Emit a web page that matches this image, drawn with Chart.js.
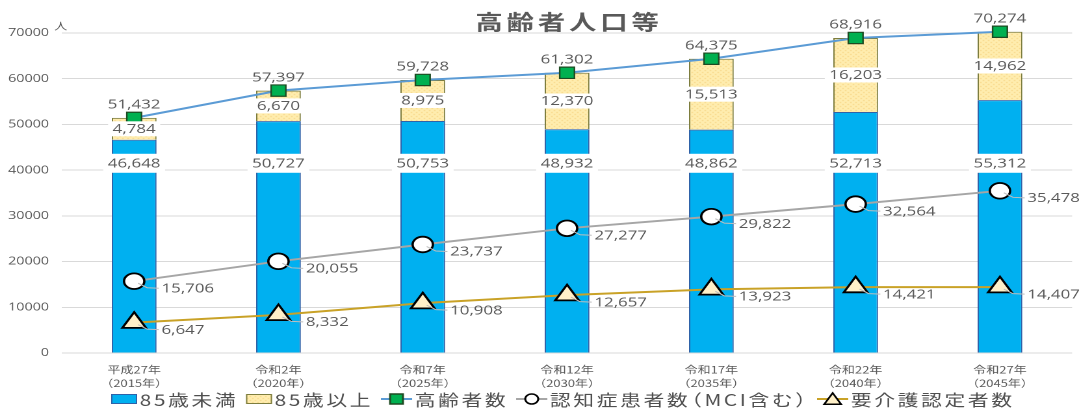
<!DOCTYPE html>
<html><head><meta charset="utf-8">
<script src="https://cdn.jsdelivr.net/npm/chart.js@4.4.1/dist/chart.umd.min.js"></script>
<style>
html,body{margin:0;padding:0;background:#fff;overflow:hidden;}
#wrap{width:837px;height:408px;transform:scale(1.3,1);transform-origin:0 0;}
</style></head><body>
<div id="wrap"><canvas id="c" width="837" height="408"></canvas></div>
<script>
// ---- data ----
const categories = [
  ["平成27年","（2015年）"],["令和2年","（2020年）"],["令和7年","（2025年）"],
  ["令和12年","（2030年）"],["令和17年","（2035年）"],["令和22年","（2040年）"],["令和27年","（2045年）"]
];
const under85 = [46648, 50727, 50753, 48932, 48862, 52713, 55312];
const over85 = [4784, 6670, 8975, 12370, 15513, 16203, 14962];
const elderlyTotal = [51432, 57397, 59728, 61302, 64375, 68916, 70274];
const dementia = [15706, 20055, 23737, 27277, 29822, 32564, 35478];
const careCertified = [6647, 8332, 10908, 12657, 13923, 14421, 14407];
const yTicks = [0, 10000, 20000, 30000, 40000, 50000, 60000, 70000];
const titleText = "高齢者人口等";
const unitText = "人";

const GRAY = '#595959';
const canvas = document.getElementById('c');
const ctx0 = canvas.getContext('2d');

function makePattern(){
  const c = document.createElement('canvas'); c.width = 4; c.height = 4;
  const x = c.getContext('2d');
  x.fillStyle = '#FFEDAF'; x.fillRect(0,0,4,4);
  x.fillStyle = '#F5D27C'; x.fillRect(0,0,1,1); x.fillRect(2,2,1,1);
  return ctx0.createPattern(c, 'repeat');
}
const yellowPattern = makePattern();
const fmt = v => v.toLocaleString('en-US');

function spacedWidth(ctx, text, sp){
  let w = 0;
  for (const ch of text){
    if (ch === '（' || ch === '）') w += ctx.measureText(ch).width*0.55 + sp;
    else w += ctx.measureText(ch).width + sp;
  }
  return w;
}
function drawSpaced(ctx, text, x, y, sp){
  for (const ch of text){
    const cw = ctx.measureText(ch).width;
    if (ch === '（'){ ctx.fillText(ch, x - cw*0.45, y); x += cw*0.55 + sp; }
    else if (ch === '）'){ ctx.fillText(ch, x, y); x += cw*0.55 + sp; }
    else { ctx.fillText(ch, x, y); x += cw + sp; }
  }
  return x;
}

const labelPlugin = {
  id: 'labels',
  afterDatasetsDraw(chart){
    const ctx = chart.ctx, ys = chart.scales.y;
    ctx.save();
    ctx.font = '13px "Open Sans"';
    ctx.textAlign = 'center'; ctx.textBaseline = 'middle';
    const box = (x, y, t, h) => {
      const w = ctx.measureText(t).width + 7;
      ctx.fillStyle = '#fff'; ctx.fillRect(x - w/2, y - h/2, w, h);
      ctx.fillStyle = GRAY; ctx.fillText(t, x, y + 0.5);
    };
    chart.getDatasetMeta(0).data.forEach((b, i) => box(b.x, ys.getPixelForValue(41500), fmt(under85[i]), 19));
    chart.getDatasetMeta(1).data.forEach((b, i) => box(b.x, (b.y + b.base)/2, fmt(over85[i]), 15));
    ctx.fillStyle = GRAY;
    chart.getDatasetMeta(2).data.forEach((p, i) => ctx.fillText(fmt(elderlyTotal[i]), p.x, p.y - 13));
    ctx.textAlign = 'left';
    const side = (meta, arr) => meta.data.forEach((p, i) => {
      ctx.strokeStyle = '#BFBFBF'; ctx.lineWidth = 1;
      ctx.beginPath(); ctx.moveTo(p.x + 3, p.y + 2); ctx.lineTo(p.x + 10, p.y + 6.5); ctx.lineTo(p.x + 19, p.y + 7); ctx.stroke();
      ctx.fillStyle = GRAY; ctx.fillText(fmt(arr[i]), p.x + 21, p.y + 7.5);
    });
    side(chart.getDatasetMeta(3), dementia);
    side(chart.getDatasetMeta(4), careCertified);
    ctx.restore();
  }
};

const decorPlugin = {
  id: 'decor',
  afterDraw(chart){
    const ctx = chart.ctx, ca = chart.chartArea;
    ctx.save();
    // title
    ctx.fillStyle = GRAY; ctx.textBaseline = 'middle';
    ctx.font = 'bold 21px "Noto Sans CJK JP"';
    const tsp = 3;
    const tw = spacedWidth(ctx, titleText, tsp) - tsp;
    ctx.textAlign = 'left';
    drawSpaced(ctx, titleText, (ca.left + ca.right)/2 - tw/2, 22, tsp);
    // unit
    ctx.font = '10px "Noto Sans CJK JP"'; ctx.textAlign = 'center';
    ctx.fillText(unitText, ca.left - 1, 26);
    // legend
    const ds = chart.data.datasets;
    const items = [
      {ds: ds[0], kind: 'box'}, {ds: ds[1], kind: 'box'},
      {ds: ds[2], kind: 'line'}, {ds: ds[3], kind: 'line'}, {ds: ds[4], kind: 'line'}
    ];
    ctx.font = '16px "Noto Sans CJK JP"'; ctx.textAlign = 'left';
    const sp = 2.0, symW = {box: 20, line: 24}, gapS = 2, gapI = 6;
    let total = 0;
    items.forEach((it, k) => { it.tw = spacedWidth(ctx, it.ds.label, sp); total += symW[it.kind] + gapS + it.tw + (k < items.length - 1 ? gapI : 0); });
    let x = 433 - total/2; const y = 399;
    items.forEach(it => {
      const d = it.ds;
      if (it.kind === 'box'){
        ctx.fillStyle = d.backgroundColor; ctx.fillRect(x, y - 5, 20, 10);
        ctx.strokeStyle = d.borderColor; ctx.lineWidth = 1; ctx.strokeRect(x + 0.5, y - 4.5, 19, 9);
      } else {
        ctx.strokeStyle = d.borderColor; ctx.lineWidth = 2;
        ctx.beginPath(); ctx.moveTo(x, y); ctx.lineTo(x + 24, y); ctx.stroke();
        ctx.fillStyle = d.pointBackgroundColor; ctx.strokeStyle = d.pointBorderColor; ctx.lineWidth = 1.5;
        const r = d.pointStyle === 'circle' ? 5 : (d.pointStyle === 'rect' ? 7 : 7.5);
        Chart.helpers.drawPoint(ctx, {pointStyle: d.pointStyle, radius: r, rotation: 0, borderWidth: 1.5}, x + 12, y + (d.pointStyle === 'triangle' ? 1.5 : 0));
      }
      x += symW[it.kind] + gapS;
      ctx.fillStyle = '#4F4F4F';
      x = drawSpaced(ctx, d.label, x, y + 1, sp);
      x += gapI;
    });
    ctx.restore();
  }
};

new Chart(canvas, {
  type: 'bar',
  data: {
    labels: categories,
    datasets: [
      {type: 'bar', label: '85歳未満', data: under85, stack: 's', order: 2, clip: false,
       backgroundColor: '#00B0F0', borderColor: '#2F62A8', borderWidth: 1,
       barPercentage: 0.31, categoryPercentage: 1},
      {type: 'bar', label: '85歳以上', data: over85, stack: 's', order: 2, clip: false,
       backgroundColor: yellowPattern, borderColor: '#7D7D3E', borderWidth: 1,
       barPercentage: 0.31, categoryPercentage: 1},
      {type: 'line', label: '高齢者数', data: elderlyTotal, order: 1, clip: false,
       borderColor: '#5B9BD5', borderWidth: 2, tension: 0,
       pointStyle: 'rect', pointRadius: 8, pointBackgroundColor: '#00B050', pointBorderColor: '#1E4A22', pointBorderWidth: 1.2},
      {type: 'line', label: '認知症患者数（MCI含む）', data: dementia, order: 1, clip: false,
       borderColor: '#A6A6A6', borderWidth: 2, tension: 0,
       pointStyle: 'circle', pointRadius: 7.8, pointBackgroundColor: '#FFFFFF', pointBorderColor: '#000000', pointBorderWidth: 1.8},
      {type: 'line', label: '要介護認定者数', data: careCertified, order: 1, clip: false,
       borderColor: '#C9A227', borderWidth: 2, tension: 0,
       pointStyle: 'triangle', pointRadius: 10.5, pointBackgroundColor: '#FFF0C8', pointBorderColor: '#000000', pointBorderWidth: 1.8}
    ]
  },
  options: {
    responsive: false, animation: false, devicePixelRatio: 2, events: [],
    layout: {padding: {top: 33, right: 8.5, bottom: 15, left: 0}},
    plugins: {legend: {display: false}, tooltip: {enabled: false}, title: {display: false}},
    scales: {
      x: {
        grid: {display: false, drawTicks: false}, border: {display: false},
        ticks: {color: GRAY, font: {family: '"Noto Sans CJK JP"', size: 10, lineHeight: 1.35}, padding: 10, maxRotation: 0, autoSkip: false},
        afterFit(s){ s.height = 40; }
      },
      y: {
        min: yTicks[0], max: yTicks[yTicks.length - 1],
        grid: {color: '#D9D9D9', lineWidth: 1, drawTicks: false}, border: {display: false},
        ticks: {color: GRAY, font: {family: '"Open Sans"', size: 11}, padding: 10, callback: v => String(v)},
        afterBuildTicks(s){ s.ticks = yTicks.map(v => ({value: v})); },
        afterFit(s){ s.width = 47.7; }
      }
    }
  },
  plugins: [labelPlugin, decorPlugin]
});
</script>
</body></html>
